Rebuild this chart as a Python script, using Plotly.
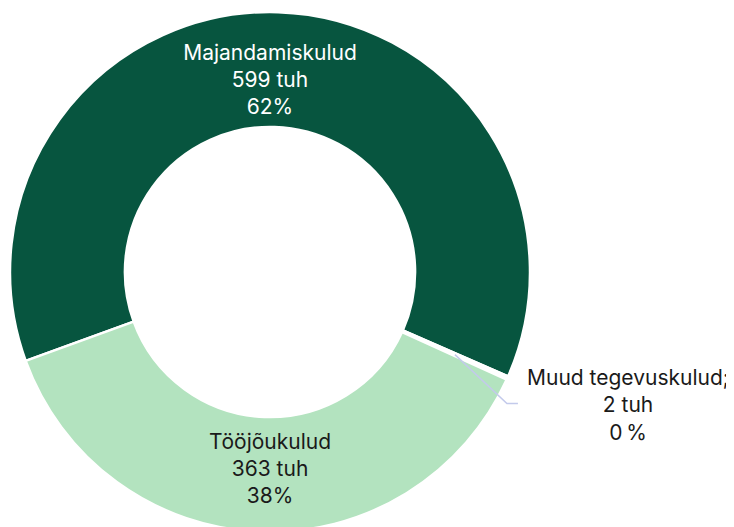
import math
import plotly.graph_objects as go

# ---- data ----
labels = ["Majandamiskulud", "Muud tegevuskulud", "Tööjõukulud"]
values = [599, 2, 363]
unit = "tuh"

# ---- style ----
colors = ["#07553F", "#FFFFFF", "#B3E3BF"]
text_colors = ["#FFFFFF", "#1A1A1A", "#1A1A1A"]
W, H = 734, 527
rotation = 250
hole = 0.558

cx, cy, R = 262, 264, 260  # pie centre / radius in figure px

fig = go.Figure(go.Pie(
    labels=labels,
    values=values,
    sort=False,
    direction="clockwise",
    rotation=rotation,
    hole=hole,
    marker=dict(colors=colors, line=dict(color="#FFFFFF", width=2.5)),
    texttemplate=["%{label}<br>%{value} " + unit + "<br>%{percent:.0%}", "",
                  "%{label}<br>%{value} " + unit + "<br>%{percent:.0%}"],
    textposition="inside",
    insidetextorientation="horizontal",
    insidetextfont=dict(family="Inter", size=21, color=text_colors),
    hoverinfo="label+value+percent",
    domain=dict(x=[(cx - R) / W, (cx + R) / W], y=[(H - cy - R) / H, (H - cy + R) / H]),
    showlegend=False,
    automargin=False,
))

# leader line + outside label for the small slice, placed from the data
total = sum(values)
mid_angle = rotation + (values[0] + values[1] / 2) / total * 360  # clockwise from top
rad = math.radians(mid_angle)
r_mid = R * (1 + hole) / 2
sx = cx + r_mid * math.sin(rad)
sy = cy - r_mid * math.cos(rad)
kx, ky = sx + 52, sy + 49
ex, ey = kx + 11, ky


def px(x):
    return x / W


def py(y):
    return 1 - y / H


fig.add_shape(
    type="path",
    xref="paper", yref="paper",
    path=f"M {px(sx)} {py(sy)} L {px(kx)} {py(ky)} L {px(ex)} {py(ey)}",
    line=dict(color="#C3CAEB", width=1.5),
)

pct = round(values[1] / total * 100)
out_text = f"{labels[1]}&#59;<br>{values[1]} {unit}<br>{pct}\u2009%"
fig.add_annotation(
    x=px(ex + 110), y=py(ey + 1),
    xref="paper", yref="paper",
    text=out_text,
    showarrow=False,
    xanchor="center", yanchor="middle",
    align="center",
    font=dict(family="Inter", size=21, color="#1A1A1A"),
)

fig.update_layout(
    width=W, height=H,
    margin=dict(l=0, r=0, t=0, b=0),
    paper_bgcolor="#FFFFFF",
    plot_bgcolor="#FFFFFF",
)

fig.write_html("out.html")
